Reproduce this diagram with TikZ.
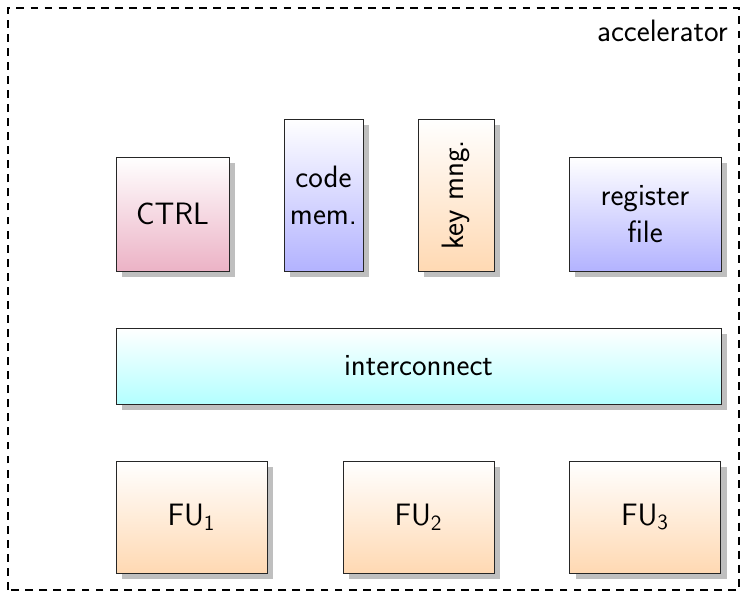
\documentclass[tikz,border=0pt]{standalone}
\usepackage{graphicx,amsmath,tikz}
\usetikzlibrary{shadows}

\begin{document}
\begin{tikzpicture}
	[font=\sffamily\fontsize{17.6}{21}\selectfont,
	box/.style={rectangle,draw=black!85,align=center,inner sep=0pt,top color=white,
		drop shadow={shadow xshift=0.12cm,shadow yshift=-0.12cm,fill=black!25,opacity=1}},
	frame/.style={draw=black,thick,dash pattern=on 4.5pt off 3.5pt}]
    \useasboundingbox (0,0) rectangle (14.84,11.86);
    \node[box,bottom color=purple!30,minimum width=2.26cm,minimum height=2.28cm] at (3.45,7.58) (ctrl) {CTRL};
    \node[box,bottom color=blue!30,minimum width=1.58cm,minimum height=3.04cm] at (6.47,7.96) (code) {code\\mem.};
    \node[box,bottom color=orange!30,minimum width=1.52cm,minimum height=3.04cm] at (9.12,7.96) (key) {\rotatebox{90}{key mng.}};
    \node[box,bottom color=blue!30,minimum width=3.04cm,minimum height=2.28cm] at (12.9,7.58) (reg) {register\\file};
    \node[box,bottom color=cyan!30,minimum width=12.1cm,minimum height=1.52cm] at (8.37,4.54) (ic) {interconnect};
    \node[box,bottom color=orange!30,minimum width=3.02cm,minimum height=2.24cm] at (3.83,1.52) (fu1) {FU\textsubscript{1}};
    \node[box,bottom color=orange!30,minimum width=3.02cm,minimum height=2.24cm] at (8.37,1.52) (fu2) {FU\textsubscript{2}};
    \node[box,bottom color=orange!30,minimum width=3.02cm,minimum height=2.24cm] at (12.9,1.52) (fu3) {FU\textsubscript{3}};
    \draw[frame] (0.16,0.06) rectangle (14.78,11.7);
    \node[anchor=north east,inner sep=0pt] at (14.56,11.46) (acc) {accelerator};
\end{tikzpicture}
\end{document}
